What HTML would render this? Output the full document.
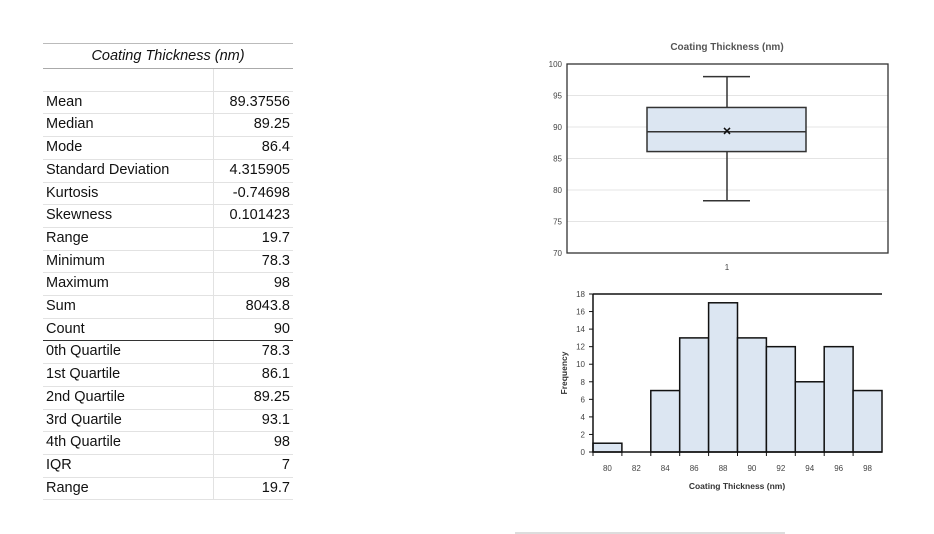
<!DOCTYPE html>
<html><head><meta charset="utf-8"><style>
body{margin:0;width:934px;height:534px;background:#fff;font-family:"Liberation Sans",sans-serif;overflow:hidden;position:relative}
table{position:absolute;left:43px;top:43px;border-collapse:collapse;font-size:14.5px;color:#111}
td{height:21.7px;padding:0 3px;border-bottom:1px solid #e2e2e2;line-height:21.7px}
td.l{width:164px}td.r{width:73px;text-align:right;border-left:1px solid #e2e2e2}
th{font-style:italic;font-weight:normal;height:22px;border-top:1px solid #bbb;border-bottom:1px solid #aaa;font-size:14.5px}
tr.sep td{border-bottom:1.5px solid #333}
</style></head><body>
<table>
<tr><th colspan="2">Coating Thickness (nm)</th></tr>
<tr><td class="l"></td><td class="r"></td></tr>
<tr><td class="l">Mean</td><td class="r">89.37556</td></tr>
<tr><td class="l">Median</td><td class="r">89.25</td></tr>
<tr><td class="l">Mode</td><td class="r">86.4</td></tr>
<tr><td class="l">Standard Deviation</td><td class="r">4.315905</td></tr>
<tr><td class="l">Kurtosis</td><td class="r">-0.74698</td></tr>
<tr><td class="l">Skewness</td><td class="r">0.101423</td></tr>
<tr><td class="l">Range</td><td class="r">19.7</td></tr>
<tr><td class="l">Minimum</td><td class="r">78.3</td></tr>
<tr><td class="l">Maximum</td><td class="r">98</td></tr>
<tr><td class="l">Sum</td><td class="r">8043.8</td></tr>
<tr class="sep"><td class="l">Count</td><td class="r">90</td></tr>
<tr><td class="l">0th Quartile</td><td class="r">78.3</td></tr>
<tr><td class="l">1st Quartile</td><td class="r">86.1</td></tr>
<tr><td class="l">2nd Quartile</td><td class="r">89.25</td></tr>
<tr><td class="l">3rd Quartile</td><td class="r">93.1</td></tr>
<tr><td class="l">4th Quartile</td><td class="r">98</td></tr>
<tr><td class="l">IQR</td><td class="r">7</td></tr>
<tr><td class="l">Range</td><td class="r">19.7</td></tr>
</table>
<svg id="c" width="934" height="534" style="position:absolute;left:0;top:0" font-family="Liberation Sans, sans-serif"></svg>
<script>
const boxTicks=[70,75,80,85,90,95,100];
const boxStats=[78.3,86.1,89.25,93.1,98];
const boxMean=89.37556;
const binLabels=[80,82,84,86,88,90,92,94,96,98];
const binCounts=[1,0,7,13,17,13,12,8,12,7];
const freqTicks=[0,2,4,6,8,10,12,14,16,18];
const svg=document.getElementById('c');
function el(t,a,txt){const e=document.createElementNS('http://www.w3.org/2000/svg',t);for(const k in a)e.setAttribute(k,a[k]);if(txt!==undefined)e.textContent=txt;svg.appendChild(e);return e;}
// box plot
const bx0=567,bx1=888,by0=64,by1=253;
const yB=v=>by1-(v-70)/30*(by1-by0);
let t=el('text',{x:727,y:50,'text-anchor':'middle','font-size':10,'font-weight':'bold',fill:'#555'},'Coating Thickness (nm)');

boxTicks.forEach(v=>{
 if(v>70&&v<100){const g=el('line',{x1:bx0,x2:bx1,y1:yB(v),y2:yB(v),stroke:'#e4e4e4'});}
 const l=el('text',{x:bx0-5,y:yB(v)+3,'text-anchor':'end','font-size':8,fill:'#444'},v);
 
});
let r=el('rect',{x:bx0,y:by0,width:bx1-bx0,height:by1-by0,fill:'none',stroke:'#333','stroke-width':1.3});

const cx=727,bl=647,br=806,cl=703,cr=750;
let w=el('path',{d:`M${cx},${yB(boxStats[0])}V${yB(boxStats[1])}M${cx},${yB(boxStats[3])}V${yB(boxStats[4])}M${cl},${yB(boxStats[0])}H${cr}M${cl},${yB(boxStats[4])}H${cr}`,stroke:'#333','stroke-width':1.5,fill:'none'});

let b=el('rect',{x:bl,y:yB(boxStats[3]),width:br-bl,height:yB(boxStats[1])-yB(boxStats[3]),fill:'#dce6f2',stroke:'#333','stroke-width':1.5});

let m=el('line',{x1:bl,x2:br,y1:yB(boxStats[2]),y2:yB(boxStats[2]),stroke:'#333','stroke-width':1.5});

const my=yB(boxMean);
let mk=el('path',{d:`M${cx-3},${my-3}L${cx+3},${my+3}M${cx-3},${my+3}L${cx+3},${my-3}`,stroke:'#111','stroke-width':1.5});

t=el('text',{x:cx,y:270,'text-anchor':'middle','font-size':8,fill:'#444'},'1');

// histogram
const hx0=593,hx1=882,hy0=294,hy1=452;
const bw=(hx1-hx0)/binLabels.length;
const yH=v=>hy1-v/18*(hy1-hy0);
binCounts.forEach((c,i)=>{
 if(c>0){const rr=el('rect',{x:hx0+i*bw,y:yH(c),width:bw,height:yH(0)-yH(c),fill:'#dce6f2',stroke:'#111','stroke-width':1.5});
 }
});
binLabels.forEach((v,i)=>{
 const l=el('text',{x:hx0+(i+0.5)*bw,y:471,'text-anchor':'middle','font-size':8,fill:'#444'},v);
 
 const tk=el('line',{x1:hx0+i*bw,x2:hx0+i*bw,y1:hy1,y2:hy1+4,stroke:'#111'});
 
});
freqTicks.forEach(v=>{
 const l=el('text',{x:hx0-8,y:yH(v)+3,'text-anchor':'end','font-size':8,fill:'#444'},v);
 
 const tk=el('line',{x1:hx0-4,x2:hx0,y1:yH(v),y2:yH(v),stroke:'#111'});
 
});
let ax=el('path',{d:`M${hx0},${hy0}H${hx1}M${hx0},${hy0}V${hy1}H${hx1}`,stroke:'#111','stroke-width':1.5,fill:'none'});

t=el('text',{x:737,y:489,'text-anchor':'middle','font-size':8.5,'font-weight':'bold',fill:'#333'},'Coating Thickness (nm)');

t=el('text',{x:0,y:0,transform:'translate(567,373) rotate(-90)','text-anchor':'middle','font-size':8.5,'font-weight':'bold',fill:'#333'},'Frequency');

let ln=el('line',{x1:515,x2:785,y1:533,y2:533,stroke:'#bbb'});

</script>
</body></html>
